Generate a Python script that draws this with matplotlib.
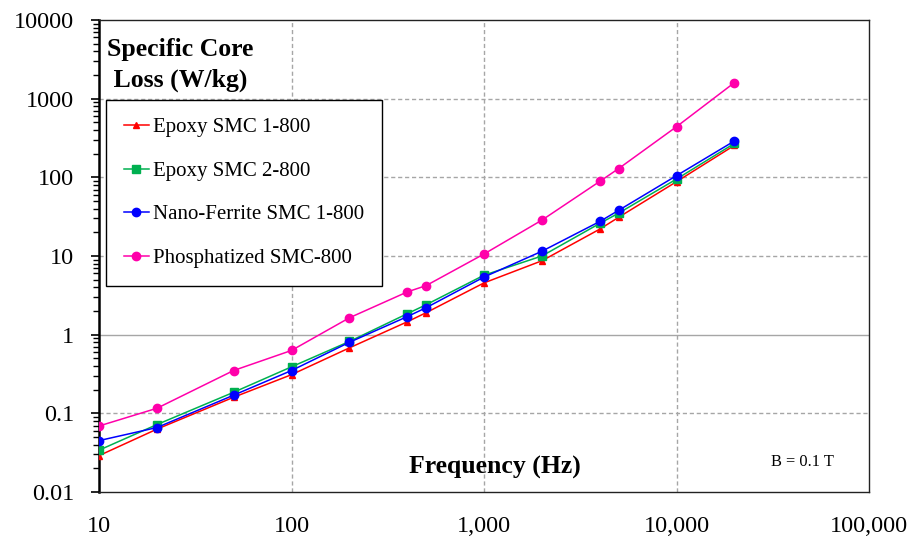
import matplotlib
matplotlib.use("Agg")
import matplotlib.pyplot as plt
from matplotlib.ticker import FixedLocator, FixedFormatter, LogLocator, NullFormatter

freq = [10, 20, 50, 100, 200, 400, 500, 1000, 2000, 4000, 5000, 10000, 20000]
epoxy1 = [0.029, 0.063, 0.16, 0.31, 0.68, 1.46, 1.9, 4.55, 8.7, 22, 31, 88, 255]
epoxy2 = [0.034, 0.072, 0.185, 0.39, 0.82, 1.85, 2.4, 5.7, 10, 26, 35, 95, 270]
nano = [0.045, 0.066, 0.17, 0.35, 0.80, 1.7, 2.2, 5.4, 11.5, 27.5, 38, 105, 290]
phos = [0.069, 0.116, 0.35, 0.63, 1.64, 3.5, 4.2, 10.6, 28.6, 89, 129, 440, 1600]

xticks = [10, 100, 1000, 10000, 100000]
xlabels = ["10", "100", "1,000", "10,000", "100,000"]
yticks = [0.01, 0.1, 1, 10, 100, 1000, 10000]
ylabels = ["0.01", "0.1", "1", "10", "100", "1000", "10000"]

plt.rcParams['font.family'] = ['Liberation Serif', 'DejaVu Serif']

fig = plt.figure(figsize=(9.15, 5.45), dpi=100)
ax = fig.add_axes([99/915, 1-492/545, (869-99)/915, (492-20)/545])
ax.set_xscale('log')
ax.set_yscale('log')
ax.set_xlim(10, 100000)
ax.set_ylim(0.01, 10000)

ax.plot(freq, epoxy1, color='#ff0000', marker='^', ms=4.5, lw=1.1, label='Epoxy SMC 1-800', zorder=3)
ax.plot(freq, epoxy2, color='#00b050', marker='s', ms=5.5, lw=1.1, label='Epoxy SMC 2-800', zorder=3)
ax.plot(freq, nano, color='#0000ff', marker='o', ms=6, lw=1.1, label='Nano-Ferrite SMC 1-800', zorder=4)
ax.plot(freq, phos, color='#ff00aa', marker='o', ms=6, lw=1.1, label='Phosphatized SMC-800', zorder=3)

# grid
for yv in yticks[1:-1]:
    if yv == 1:
        ax.axhline(yv, color='#a6a6a6', lw=1.0, ls='-', zorder=1)
    else:
        ax.axhline(yv, color='#a6a6a6', lw=1.0, ls=(0, (3, 2)), zorder=1)
for xv in xticks[1:-1]:
    ax.axvline(xv, color='#a6a6a6', lw=1.0, ls=(0, (3, 2)), zorder=1)

ax.xaxis.set_major_locator(FixedLocator(xticks))
ax.xaxis.set_major_formatter(FixedFormatter(xlabels))
ax.xaxis.set_minor_locator(FixedLocator([]))
ax.tick_params(axis='x', which='both', length=0, pad=17, labelsize=17.5)
ax.yaxis.set_major_locator(FixedLocator(yticks))
ax.yaxis.set_major_formatter(FixedFormatter(ylabels))
ax.yaxis.set_minor_locator(LogLocator(base=10, subs=range(2, 10)))
ax.yaxis.set_minor_formatter(NullFormatter())
ax.tick_params(axis='y', which='major', direction='out', length=6, width=1.2, labelsize=17.5, pad=12)
ax.tick_params(axis='y', which='minor', direction='out', length=4, width=1.0)

ax.spines['left'].set_linewidth(1.8)
ax.spines['left'].set_color('black')
for s in ['top', 'right', 'bottom']:
    ax.spines[s].set_linewidth(1.0)
    ax.spines[s].set_color('#222222')

ax.text(0.011, 0.962, "Specific Core\n Loss (W/kg)", transform=ax.transAxes, ha='left', va='top',
        fontsize=18.5, fontweight='bold', linespacing=1.45)
ax.text(0.514, 0.053, "Frequency (Hz)", transform=ax.transAxes, ha='center', va='center',
        fontsize=18.5, fontweight='bold')
ax.text(0.873, 0.063, "B = 0.1 T", transform=ax.transAxes, ha='left', va='center', fontsize=11.8)

leg = ax.legend(loc='upper left', bbox_to_anchor=(7/770, 1-(100-20)/472), fontsize=15,
                frameon=True, fancybox=False, edgecolor='black', framealpha=1,
                handlelength=1.2, handletextpad=0.2, labelspacing=1.15, borderpad=0.85, borderaxespad=0)
leg.get_frame().set_linewidth(1.0)
leg.set_zorder(5)

fig.savefig("out.png", dpi=100)
